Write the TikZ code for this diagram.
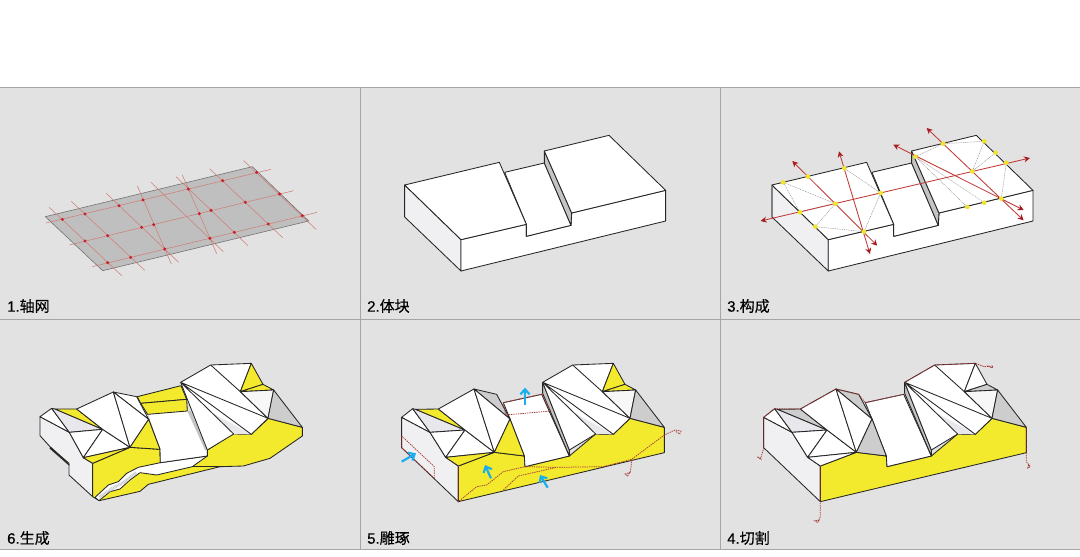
\documentclass[tikz,border=0pt]{standalone}
\usepackage{fontspec}
\setmainfont[FakeBold=0.35]{Liberation Sans}
\newfontfamily\cjk[FakeBold=0.35]{Noto Sans CJK SC}
\usetikzlibrary{arrows.meta}
\definecolor{panelbg}{HTML}{E2E2E2}
\definecolor{rule}{HTML}{A6A6A6}
\definecolor{plate}{HTML}{BFBFBF}
\definecolor{gridred}{HTML}{CF7F78}
\definecolor{dotred}{HTML}{C8202A}
\definecolor{axisred}{HTML}{BE3A36}
\definecolor{headred}{HTML}{A81C20}
\definecolor{cutred}{HTML}{A83A36}
\definecolor{dotyellow}{HTML}{F2E42A}
\definecolor{fillyellow}{HTML}{F3E92D}
\definecolor{sidepale}{HTML}{F0F0F3}
\definecolor{wedgepale}{HTML}{E8E8EC}
\definecolor{slopegray}{HTML}{C4C4C4}
\definecolor{facegray}{HTML}{CDCDCD}
\definecolor{arrowblue}{HTML}{19AEEF}
\tikzset{
  edge/.style={draw=black!85,line width=.85pt,line join=round},
  gridline/.style={draw=gridred,line width=.55pt},
  griddot/.style={fill=dotred,draw=none},
  tridash/.style={draw=black!45,line width=.45pt,dash pattern=on 1pt off .8pt},
  axisarrow/.style={draw=axisred,line width=.85pt,{Stealth[length=6pt,width=6pt,color=headred]}-{Stealth[length=6pt,width=6pt,color=headred]}},
  cut/.style={draw=cutred,line width=.75pt,dash pattern=on 1.4pt off .9pt},
  blue/.style={draw=arrowblue,line width=2.2pt,-{Straight Barb[length=5pt,width=9pt,color=arrowblue]}},
  label/.style={anchor=west,inner sep=0pt,font=\fontsize{15}{17}\selectfont}
}
% block used in panels 2 and 3
\newcommand\massing{%
  \fill[sidepale,edge] (134,195)--(303,359)--(303,453)--(134,291)--cycle;
  \path[fill=white,edge] (303,359)--(499,313)--(499,349)--(633,316)--(635,279)--(917,211)--(917,303)--(303,453)--cycle;
  \path[fill=white,edge] (434,157)--(553,129)--(633,316)--(499,349)--(499,313)--cycle;
  \path[fill=white,edge] (134,195)--(418,127)--(499,313)--(303,359)--cycle;
  \path[fill=slopegray,edge] (553,93)--(553,129)--(633,316)--(635,279)--cycle;
  \path[fill=white,edge] (553,93)--(747,46)--(917,211)--(635,279)--cycle;
}
% right-hand folded roof, #1 top triangle, #2 under it
\newcommand\rightroof[2]{%
  \path[fill=white,edge] (473,97)--(563,45)--(685,40)--(652,125)--(735,205)--(685,253)--(632,252)--(553,300)--cycle;
  \fill[wedgepale] (565,187)--(685,253)--(632,252)--cycle;
  \path[fill=#1,edge] (685,40)--(720,103)--(652,125)--cycle;
  \path[fill=#2,edge] (652,125)--(720,103)--(752,120)--cycle;
  \path[fill=black!3,edge] (652,125)--(752,120)--(735,205)--cycle;
  \path[fill=facegray,edge] (752,120)--(838,232)--(735,205)--cycle;
  \draw[edge] (473,97)--(632,252) (473,97)--(685,253) (473,97)--(735,205) (563,45)--(652,125);
}
% left-hand folded roof and front of panels 4 and 5
\newcommand\blockfive[3]{%
  \path[fill=sidepale,edge] (50,202)--(135,247)--(182,322)--(220,348)--(220,455)--(50,293)--cycle;
  \path[fill=fillyellow,edge] (220,348)--(328,307)--(418,318)--(420,350)--(553,318)--(632,252)--(685,253)--(735,205)--(838,232)--(838,308)--(220,455)--cycle;
  \path[fill=white,edge] (355,158)--(470,133)--(553,318)--(420,350)--(418,318)--(375,207)--cycle;
  \path[fill=slopegray,edge] (473,97)--(473,130)--(553,318)--(553,300)--cycle;
  \path[fill=white,edge] (50,202)--(83,176)--(135,247)--cycle;
  \path[fill=wedgepale,edge] (83,176)--(92,178)--(240,240)--(135,247)--cycle;
  \path[fill=#1,edge] (92,178)--(160,177)--(240,240)--cycle;
  \path[fill=white,edge] (135,247)--(240,240)--(182,322)--cycle;
  \path[fill=white,edge] (240,240)--(328,307)--(182,322)--cycle;
  \path[fill=white,edge] (160,177)--(267,117)--(328,307)--(240,240)--cycle;
  \path[fill=facegray,edge] (267,117)--(335,133)--(375,207)--cycle;
  \path[fill=white,edge] (267,117)--(375,207)--(328,307)--cycle;
  \path[fill=#2,edge] (375,207)--(328,307)--(418,318)--cycle;
  \path[fill=#3,edge] (182,322)--(328,307)--(220,348)--cycle;
}
\begin{document}
\begin{tikzpicture}[x=1pt,y=-1pt]
\useasboundingbox (0,0) rectangle (1080,557);
\fill[white] (0,0) rectangle (1080,557);
\fill[panelbg] (0,87) rectangle (1080,549.5);
\draw[rule,line width=.9pt] (0,87)--(1080,87) (0,319.5)--(1080,319.5) (0,549.5)--(1080,549.5) (360.5,87)--(360.5,549.5) (720.5,87)--(720.5,549.5);

% ---- panel 1
\begin{scope}[shift={(0,130)},x=.33333pt,y=-.33333pt]
  \path[fill=plate,draw=black!55,line width=.6pt] (136,260)--(757,110)--(926,273)--(308,422)--cycle;
  \draw[gridline] (138,279)--(813,118) (208,345)--(881,182) (277,410)--(951,247);
  \draw[gridline] (148,232)--(365,437) (214,214)--(434,421) (319,190)--(536,397) (412,168)--(514,402)
    (453,157)--(670,365) (547,135)--(650,371) (528,140)--(744,347) (629,116)--(848,323) (731,92)--(948,298);
  \foreach \p in {(187,268),(255,252),(357,227),(429,210),(565,177),(668,152),(770,127),(255,333),(323,317),(425,292),(461,284),(598,251),(633,241),(736,217),(839,192),(323,398),(392,382),(494,357),(630,325),(703,307),(805,282),(907,257)}
    \fill[griddot] \p circle[radius=5];
\end{scope}

% ---- panel 2
\begin{scope}[shift={(360,120)},x=.33333pt,y=-.33333pt]
  \massing
\end{scope}

% ---- panel 3
\begin{scope}[shift={(727.3,120)},x=.33333pt,y=-.33333pt]
  \massing
  \draw[draw=black!50,line width=1.6pt] (134,197)--(134,290);
  \draw[tridash] (168,187)--(324,251) (168,187)--(218,277) (218,277)--(324,251) (264,320)--(324,251) (264,320)--(410,335)
    (351,145)--(460,219) (460,219)--(410,335)
    (564,110)--(648,71) (648,71)--(771,64) (771,64)--(735,154) (805,98)--(735,154) (837,128)--(822,236)
    (564,110)--(720,261) (564,110)--(771,248);
  \draw[axisarrow] (100,303)--(908,114);
  \draw[axisarrow] (195,123)--(450,377);
  \draw[axisarrow] (335,94)--(428,402);
  \draw[axisarrow] (498,74)--(889,270);
  \draw[axisarrow] (598,24)--(889,301);
  \foreach \p in {(168,187),(242,170),(351,145),(460,219),(324,251),(218,277),(264,320),(410,335),(564,110),(648,71),(771,64),(805,98),(837,128),(735,154),(822,236),(771,248),(720,261)}
    \fill[dotyellow] \p circle[radius=7];
\end{scope}

% ---- panel 6
\begin{scope}[shift={(20,350)},x=.33333pt,y=-.33333pt]
  \path[fill=sidepale,edge] (60,200)--(148,247)--(190,323)--(218,340)--(218,440)--(147,375)--(147,343)--(90,290)--(60,257)--cycle;
  \path[fill=fillyellow,edge] (92,292)--(147,340)--(147,345)--(90,295)--cycle;
  \path[fill=fillyellow,edge] (218,340)--(330,292)--(420,298)--(421,338)--(562,318)--(562,300)--(640,250)--(695,252)--(745,205)--(847,232)--(847,258)--(750,325)--(670,348)--(600,350)--(385,403)--(360,424)--(238,452)--(218,440)--cycle;
  \path[fill=white,edge] (225,442)--(265,405)--(295,395)--(320,370)--(355,352)--(421,338)--(562,318)--(517,350)--(410,375)--(360,368)--(330,390)--(300,417)--(270,425)--(237,452)--cycle;
  \draw[black!22,line width=3pt,dash pattern=on .8pt off .7pt] (238,441)--(282,412)--(310,398)--(348,368);
  \draw[edge] (517,350)--(600,350);
  \path[fill=white,draw=none] (386,193)--(502,183)--(562,300)--(562,318)--(421,338)--(420,298)--cycle;
  \draw[edge] (386,208)--(420,298)--(421,338)--(562,318)--(562,300);
  \path[fill=fillyellow,edge] (352,140)--(483,107)--(500,148)--(362,160)--cycle;
  \path[fill=fillyellow,edge] (362,160)--(500,148)--(502,183)--(383,193)--cycle;
  \fill[slopegray] (502,183)--(512,183)--(562,300)--(555,300)--cycle;
  \path[fill=white,edge] (60,200)--(95,175)--(148,247)--cycle;
  \path[fill=wedgepale,edge] (95,175)--(105,177)--(248,238)--(148,247)--cycle;
  \path[fill=fillyellow,edge] (105,177)--(170,177)--(248,238)--cycle;
  \path[fill=white,edge] (148,247)--(248,238)--(190,323)--cycle;
  \path[fill=white,edge] (248,238)--(330,292)--(190,323)--cycle;
  \path[fill=white,edge] (170,177)--(280,126)--(330,292)--(248,238)--cycle;
  \path[fill=white,edge] (280,126)--(350,140)--(386,208)--cycle;
  \path[fill=white,edge] (280,126)--(386,208)--(330,292)--cycle;
  \path[fill=fillyellow,edge] (386,208)--(330,292)--(420,298)--cycle;
  \path[fill=fillyellow,edge] (190,323)--(330,292)--(218,340)--cycle;
\end{scope}
\begin{scope}[shift={(23,350)},x=.33333pt,y=-.33333pt]
  \rightroof{fillyellow}{fillyellow}
\end{scope}

% ---- panel 5
\begin{scope}[shift={(385,350)},x=.33333pt,y=-.33333pt]
  \blockfive{fillyellow}{fillyellow}{fillyellow}
  \rightroof{fillyellow}{fillyellow}
  \draw[cut] (50,258)--(148,350)--(148,385) (50,258)--(50,293)--(148,385);
  \draw[cut] (220,348)--(220,455)--(275,410)--(305,405)--(355,365)--(420,350)--(515,352)--(655,350);
  \draw[cut] (355,420)--(400,378)--(515,352);
  \draw[cut] (655,350)--(740,328)--(838,255)--(870,240)--(888,243)--(884,252)--(872,244);
  \draw[cut] (740,328)--(737,362)--(728,378)--(720,372)--(738,366);
  \draw[cut] (355,158)--(470,133)--(497,183)--(362,195)--cycle;
  \draw[blue] (50,335)--(93,310);
  \draw[blue] (318,385)--(300,345);
  \draw[blue] (488,413)--(465,375);
  \draw[blue] (420,165)--(420,113);
\end{scope}

% ---- panel 4
\begin{scope}[shift={(747,350)},x=.33333pt,y=-.33333pt]
  \blockfive{facegray}{facegray}{white}
  \rightroof{white}{facegray}
  \draw[cut] (50,202)--(83,176)--(160,177)--(267,117)--(335,133)--(355,158)--(470,133);
  \draw[cut] (473,97)--(563,45)--(685,40)--(712,50)--(738,48)--(735,54)--(720,46);
  \draw[cut] (50,202)--(50,295)--(41,325)--(30,320)--(44,330);
  \draw[cut] (220,348)--(220,500)--(212,518)--(203,512)--(220,510);
  \draw[cut] (838,232)--(838,335)--(850,350)--(842,354)--(846,342);
\end{scope}

\node[label] (t1) at (7,306) {1.{\cjk 轴网}};
\node[label] (t2) at (367,306) {2.{\cjk 体块}};
\node[label] (t3) at (727,306) {3.{\cjk 构成}};
\node[label] (t6) at (7,538) {6.{\cjk 生成}};
\node[label] (t5) at (367,538) {5.{\cjk 雕琢}};
\node[label] (t4) at (727,538) {4.{\cjk 切割}};
\end{tikzpicture}
\end{document}
